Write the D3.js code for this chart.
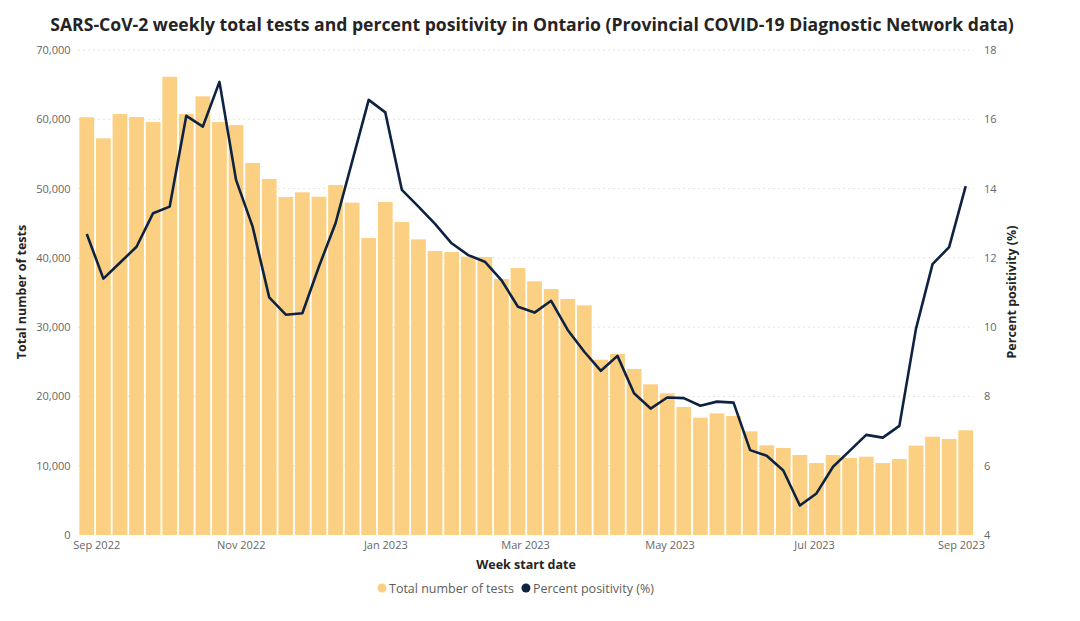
<!DOCTYPE html>
<html><head><meta charset="utf-8">
<script src="https://cdn.jsdelivr.net/npm/d3@7"></script>
<style>
html,body{margin:0;padding:0;background:#fff;}
svg{display:block;font-family:"Open Sans","Noto Sans",sans-serif;}
</style></head>
<body><svg id="c" width="1080" height="621"></svg>
<script>
const firstWeek = "2022-08-28";
const tests = [60300,57250,60760,60330,59600,66140,60760,63310,59600,59170,53690,51380,48780,49460,48830,50510,47960,42860,48060,45170,42670,40990,40840,40170,40120,36950,38530,36610,35500,34060,33150,25300,26120,23960,21750,20450,18470,16930,17560,17170,14960,12950,12560,11550,10390,11550,11110,11300,10390,10970,12890,14190,13850,15110];
const positivity = [12.69,11.40,11.86,12.32,13.29,13.48,16.10,15.79,17.08,14.25,12.90,10.86,10.36,10.40,11.75,13.00,14.78,16.56,16.20,13.96,13.48,12.98,12.42,12.08,11.89,11.36,10.59,10.42,10.76,9.92,9.29,8.74,9.17,8.09,7.65,7.97,7.95,7.73,7.85,7.82,6.45,6.29,5.86,4.85,5.20,5.97,6.43,6.89,6.81,7.15,9.95,11.82,12.31,14.07];
const leftTicks = [0,10000,20000,30000,40000,50000,60000,70000];
const rightTicks = [4,6,8,10,12,14,16,18];
const titleText = "SARS-CoV-2 weekly total tests and percent positivity in Ontario (Provincial COVID-19 Diagnostic Network data)";

const parse = d3.utcParse("%Y-%m-%d");
const start = parse(firstWeek);
const dates = tests.map((_, i) => d3.utcDay.offset(start, 7 * i));
const data = dates.map((d, i) => ({date: d, tests: tests[i], pos: positivity[i]}));

const svg = d3.select("#c");
const L = 78.5, R = 974, T = 50, B = 535;
const half = 3.5 * 864e5;
const x = d3.scaleUtc()
  .domain([new Date(+dates[0] - half), new Date(+dates[dates.length - 1] + half)])
  .range([L, R]);
const y = d3.scaleLinear().domain([0, 70000]).range([B, T]);
const y2 = d3.scaleLinear().domain([4, 18]).range([B, T]);

// gridlines
svg.append("g").selectAll("line").data(leftTicks.slice(1)).join("line")
  .attr("x1", L).attr("x2", R).attr("y1", d => y(d)).attr("y2", d => y(d))
  .attr("stroke", "#c8c8c8").attr("stroke-width", 1).attr("stroke-dasharray", "1,4");

// bars
const gap = 1.8;
svg.append("g").selectAll("rect").data(data).join("rect")
  .attr("x", d => x(new Date(+d.date - half)) + gap / 2)
  .attr("width", d => x(new Date(+d.date + half)) - x(new Date(+d.date - half)) - gap)
  .attr("y", d => y(d.tests))
  .attr("height", d => B - y(d.tests))
  .attr("fill", "#FCD083");

// line
svg.append("path").datum(data)
  .attr("fill", "none").attr("stroke", "#0E2241").attr("stroke-width", 2.6)
  .attr("stroke-linejoin", "round")
  .attr("d", d3.line().x(d => x(d.date)).y(d => y2(d.pos)));

// axes
const tickColor = "#666";
const gl = svg.append("g").attr("transform", `translate(${L - 6},0)`)
  .call(d3.axisLeft(y).tickValues(leftTicks).tickFormat(d3.format(",")).tickSize(0).tickPadding(2));
const gr = svg.append("g").attr("transform", `translate(${R + 8},0)`)
  .call(d3.axisRight(y2).tickValues(rightTicks).tickFormat(d3.format("d")).tickSize(0).tickPadding(2));
const gx = svg.append("g").attr("transform", `translate(0,${B + 2})`)
  .call(d3.axisBottom(x).ticks(d3.utcMonth.every(2)).tickFormat(d3.utcFormat("%b %Y")).tickSize(0).tickPadding(4));
[gl, gr, gx].forEach(g => {
  g.select(".domain").remove();
  g.selectAll("text").attr("fill", tickColor).style("font-size", "11px")
    .style("font-family", '"Open Sans","Noto Sans",sans-serif');
});

// titles
svg.append("text").attr("x", 532).attr("y", 31).attr("text-anchor", "middle")
  .style("font-size", "17.6px").style("font-weight", "700").attr("fill", "#252423").text(titleText);
svg.append("text").attr("transform", `translate(26,292) rotate(-90)`).attr("text-anchor", "middle")
  .style("font-size", "12.5px").style("font-weight", "700").attr("fill", "#252423").text("Total number of tests");
svg.append("text").attr("transform", `translate(1016,292) rotate(-90)`).attr("text-anchor", "middle")
  .style("font-size", "12.5px").style("font-weight", "700").attr("fill", "#252423").text("Percent positivity (%)");
svg.append("text").attr("x", 526).attr("y", 569).attr("text-anchor", "middle")
  .style("font-size", "12.5px").style("font-weight", "700").attr("fill", "#252423").text("Week start date");

// legend
const leg = svg.append("g");
const items = [{label: "Total number of tests", color: "#FCD083"}, {label: "Percent positivity (%)", color: "#0E2241"}];
let lx = 382;
items.forEach(it => {
  leg.append("circle").attr("cx", lx).attr("cy", 588).attr("r", 4.5).attr("fill", it.color);
  const t = leg.append("text").attr("x", lx + 7).attr("y", 592.5)
    .style("font-size", "12.5px").attr("fill", "#605E5C").text(it.label);
  lx += 7 + t.node().getComputedTextLength() + 12;
});
</script></body></html>
